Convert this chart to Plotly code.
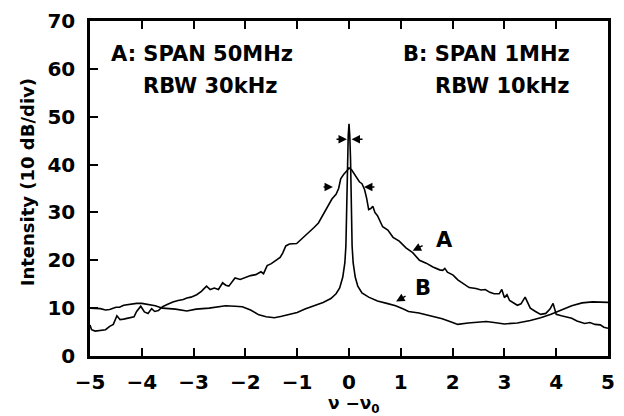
import plotly.graph_objects as go

# Curve A: SPAN 50 MHz, RBW 30 kHz (broad spectrum)
a_x = [-5.00, -4.97, -4.90, -4.80, -4.70, -4.62, -4.55, -4.48, -4.42, -4.35, -4.25, -4.15, -4.10,
       -4.02, -3.95, -3.88, -3.81, -3.75, -3.68, -3.60, -3.50, -3.40, -3.30, -3.20, -3.13, -3.05,
       -2.94, -2.85, -2.75, -2.68, -2.60, -2.52, -2.44, -2.38, -2.32, -2.25, -2.20, -2.10, -2.00,
       -1.90, -1.80, -1.70, -1.65, -1.58, -1.50, -1.40, -1.33, -1.28, -1.22, -1.15, -1.01, -0.90,
       -0.77, -0.68, -0.59, -0.50, -0.41, -0.33, -0.25, -0.20, -0.16, -0.10, -0.04, 0.00, 0.05,
       0.10, 0.14, 0.20, 0.25, 0.30, 0.34, 0.38, 0.42, 0.46, 0.50, 0.55, 0.65, 0.75, 0.85, 0.97,
       1.10, 1.23, 1.36, 1.49, 1.62, 1.75, 1.81, 1.85, 1.90, 2.01, 2.10, 2.20, 2.32, 2.45, 2.55,
       2.63, 2.72, 2.80, 2.90, 2.95, 3.00, 3.05, 3.10, 3.25, 3.32, 3.40, 3.45, 3.50, 3.60, 3.70,
       3.80, 3.88, 3.94, 4.00, 4.10, 4.20, 4.30, 4.40, 4.55, 4.65, 4.75, 4.85, 4.92, 5.00]
a_y = [6.5, 5.5, 5.2, 5.4, 5.5, 6.2, 6.6, 8.4, 7.6, 7.7, 7.9, 8.2, 9.3,
       10.4, 9.2, 8.9, 9.9, 9.3, 9.5, 10.3, 10.8, 11.3, 11.6, 11.8, 12.1, 12.3,
       12.8, 13.5, 14.6, 13.9, 14.2, 13.9, 15.3, 14.8, 14.6, 15.6, 16.3, 16.0, 16.4,
       16.8, 17.0, 17.6, 17.2, 18.9, 19.3, 20.0, 20.6, 21.5, 23.0, 23.4, 23.5, 24.6,
       25.8, 26.8, 27.8, 29.6, 31.1, 32.8, 33.8, 35.0, 37.0, 38.0, 38.7, 39.3, 38.9,
       38.0, 37.5, 36.4, 36.0, 34.8, 33.0, 30.6, 30.8, 31.3, 30.0, 29.3, 27.0, 26.3, 24.8, 24.0,
       22.6, 21.6, 20.0, 19.4, 18.6, 18.0, 17.9, 18.3, 17.5, 16.9, 15.9, 15.2, 14.3, 14.1, 13.8,
       13.9, 13.3, 13.0, 13.0, 13.9, 12.2, 12.8, 11.6, 10.6, 10.9, 12.3, 11.0, 10.0, 9.3, 8.7,
       8.9, 9.8, 11.0, 8.7, 8.4, 8.1, 7.9, 7.3, 6.8, 7.0, 6.6, 6.5, 6.0, 5.8]

# Curve B: SPAN 1 MHz, RBW 10 kHz (narrow spike)
b_x = [-5.00, -4.90, -4.80, -4.70, -4.62, -4.50, -4.43, -4.35, -4.25, -4.10, -4.00, -3.88, -3.74,
       -3.60, -3.50, -3.35, -3.13, -2.95, -2.70, -2.50, -2.38, -2.20, -2.06, -1.90, -1.74, -1.60,
       -1.44, -1.30, -1.13, -1.00, -0.85, -0.65, -0.50, -0.35, -0.25, -0.18, -0.12, -0.08, -0.06,
       -0.05, -0.04, -0.03, -0.015, 0.00, 0.015, 0.03, 0.04, 0.05, 0.06, 0.08, 0.12, 0.17, 0.25,
       0.38, 0.55, 0.73, 0.90, 1.05, 1.15, 1.35, 1.60, 1.80, 2.00, 2.10, 2.30, 2.65, 2.80, 3.00,
       3.25, 3.50, 3.70, 3.90, 4.10, 4.30, 4.50, 4.70, 5.00]
b_y = [10.0, 10.0, 9.9, 9.6, 9.7, 10.2, 10.2, 10.6, 10.8, 11.0, 11.0, 10.8, 10.5,
       10.0, 9.9, 9.8, 9.4, 9.8, 10.0, 10.4, 10.5, 10.4, 10.3, 9.6, 8.6, 8.2,
       8.0, 8.3, 8.8, 9.1, 9.8, 10.6, 11.2, 12.0, 13.0, 14.2, 16.5, 19.5, 23.0,
       28.0, 35.0, 41.0, 46.0, 48.5, 46.0, 41.0, 35.0, 28.0, 23.0, 19.5, 16.5, 14.6, 13.2,
       12.3, 11.5, 11.0, 10.5, 9.8, 9.3, 9.0, 8.3, 7.8, 7.0, 6.6, 6.9, 7.2, 7.0, 6.7,
       6.9, 7.4, 8.0, 8.7, 9.6, 10.5, 11.1, 11.3, 11.2]

x_ticks = [-5, -4, -3, -2, -1, 0, 1, 2, 3, 4, 5]
x_tick_text = ["\u22125", "\u22124", "\u22123", "\u22122", "\u22121", "0", "1", "2", "3", "4", "5"]
y_ticks = [0, 10, 20, 30, 40, 50, 60, 70]

FONT = "DejaVu Sans"

fig = go.Figure()
fig.add_trace(go.Scatter(x=a_x, y=a_y, mode="lines", line=dict(color="black", width=1.6),
                         showlegend=False, hoverinfo="skip"))
fig.add_trace(go.Scatter(x=b_x, y=b_y, mode="lines", line=dict(color="black", width=1.6),
                         showlegend=False, hoverinfo="skip"))

annotations = []
# text blocks
txt_font = dict(family=FONT, size=21, color="black", weight="bold")
annotations += [
    dict(text="A: SPAN 50MHz", xref="paper", yref="paper", x=0.036, y=0.90,
         xanchor="left", yanchor="middle", showarrow=False, font=txt_font),
    dict(text="RBW 30kHz", xref="paper", yref="paper", x=0.099, y=0.806,
         xanchor="left", yanchor="middle", showarrow=False, font=txt_font),
    dict(text="B: SPAN 1MHz", xref="paper", yref="paper", x=0.930, y=0.90,
         xanchor="right", yanchor="middle", showarrow=False, font=txt_font),
    dict(text="RBW 10kHz", xref="paper", yref="paper", x=0.930, y=0.806,
         xanchor="right", yanchor="middle", showarrow=False, font=txt_font),
    dict(text="A", x=1.85, y=24.2, xref="x", yref="y", showarrow=False,
         font=dict(family=FONT, size=21, color="black", weight="bold")),
    dict(text="B", x=1.43, y=14.3, xref="x", yref="y", showarrow=False,
         font=dict(family=FONT, size=21, color="black", weight="bold")),
]
# arrows (tip at x,y; tail at ax,ay)
arrows = [
    (-0.04, 45.3, -0.27, 45.3),
    (0.05, 45.3, 0.29, 45.3),
    (-0.31, 35.3, -0.52, 35.3),
    (0.29, 35.3, 0.52, 35.3),
    (1.23, 22.0, 1.45, 23.2),
    (0.91, 11.4, 1.12, 12.7),
]
for (tx, ty, sx, sy) in arrows:
    annotations.append(dict(text="", x=tx, y=ty, ax=sx, ay=sy, xref="x", yref="y",
                            axref="x", ayref="y", showarrow=True, arrowhead=2,
                            arrowsize=1.2, arrowwidth=1.4, arrowcolor="black", standoff=0))
# axis titles
annotations += [
    dict(text="Intensity (10 dB/div)", xref="paper", yref="paper", x=-0.12, y=0.518,
         textangle=-90, xanchor="center", yanchor="middle", showarrow=False,
         font=dict(family=FONT, size=18, color="black", weight="bold")),
    dict(text="\u03bd \u2212\u03bd<sub>0</sub>", xref="paper", yref="paper", x=0.51, y=-0.145,
         xanchor="center", yanchor="middle", showarrow=False,
         font=dict(family=FONT, size=17, color="black", weight="bold")),
]

fig.update_layout(
    width=624, height=416,
    margin=dict(l=90, r=9, t=16, b=60),
    paper_bgcolor="white", plot_bgcolor="white",
    annotations=annotations,
    xaxis=dict(range=[-5, 5], tickvals=x_ticks, ticktext=x_tick_text, ticks="inside",
               ticklen=8, tickwidth=2, tickcolor="black", showline=True, linewidth=2.5,
               linecolor="black", mirror="ticks", showgrid=False, zeroline=False,
               ticklabelstandoff=6,
               tickfont=dict(family=FONT, size=20, color="black", weight="bold")),
    yaxis=dict(range=[0, 70], tickvals=y_ticks, ticks="inside", ticklen=8, tickwidth=2,
               tickcolor="black", showline=True, linewidth=2.5, linecolor="black",
               mirror=True, showgrid=False, zeroline=False, ticklabelstandoff=8,
               tickfont=dict(family=FONT, size=20, color="black", weight="bold")),
)

fig.write_html("out.html")
